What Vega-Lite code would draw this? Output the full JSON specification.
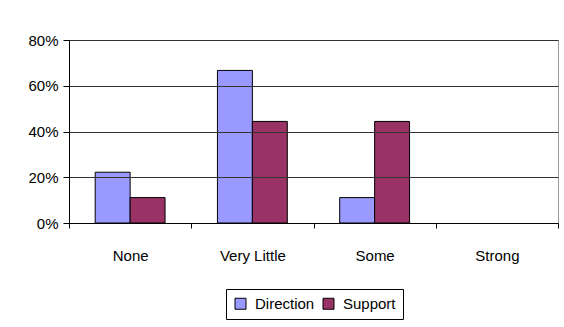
{
  "$schema": "https://vega.github.io/schema/vega-lite/v6.json",
  "width": 489,
  "height": 183,
  "autosize": "none",
  "padding": {"left": 69, "top": 40, "right": 6, "bottom": 104},
  "background": "white",
  "data": {
    "values": [
      {"level": "None", "series": "Direction", "share": 0.222},
      {"level": "None", "series": "Support", "share": 0.111},
      {"level": "Very Little", "series": "Direction", "share": 0.667},
      {"level": "Very Little", "series": "Support", "share": 0.444},
      {"level": "Some", "series": "Direction", "share": 0.111},
      {"level": "Some", "series": "Support", "share": 0.444},
      {"level": "Strong", "series": "Direction", "share": 0},
      {"level": "Strong", "series": "Support", "share": 0}
    ]
  },
  "transform": [{"filter": "datum.share > 0"}],
  "mark": {"type": "bar", "stroke": "black", "strokeWidth": 1},
  "encoding": {
    "x": {
      "field": "level",
      "type": "nominal",
      "scale": {
        "domain": ["None", "Very Little", "Some", "Strong"],
        "paddingInner": 0,
        "paddingOuter": 0
      },
      "axis": {
        "title": null,
        "labelAngle": 0,
        "tickBand": "extent",
        "tickSize": 5,
        "tickColor": "black",
        "domainColor": "black",
        "labelPadding": 20,
        "labelFontSize": 15,
        "labelColor": "black",
        "zindex": 1
      }
    },
    "xOffset": {
      "field": "series",
      "type": "nominal",
      "scale": {"domain": ["Direction", "Support"], "paddingInner": 0, "paddingOuter": 0.75}
    },
    "y": {
      "field": "share",
      "type": "quantitative",
      "scale": {"domain": [0, 0.8], "nice": false},
      "axis": {
        "title": null,
        "values": [0, 0.2, 0.4, 0.6, 0.8],
        "format": ".0%",
        "grid": true,
        "gridColor": "#333333",
        "gridOpacity": 1,
        "tickSize": 6,
        "tickColor": "black",
        "domainColor": "black",
        "labelPadding": 5,
        "labelFontSize": 15,
        "labelColor": "black",
        "zindex": 1
      }
    },
    "color": {
      "field": "series",
      "type": "nominal",
      "scale": {"domain": ["Direction", "Support"], "range": ["#9999FF", "#993366"]},
      "legend": {
        "title": null,
        "orient": "none",
        "legendX": 157,
        "legendY": 249,
        "direction": "horizontal",
        "strokeColor": "black",
        "padding": 7,
        "symbolType": "square",
        "symbolSize": 121,
        "symbolStrokeColor": "black",
        "symbolStrokeWidth": 1,
        "symbolOpacity": 1,
        "labelFontSize": 15,
        "labelColor": "black",
        "labelOffset": 7,
        "columnPadding": 6
      }
    }
  },
  "config": {
    "font": "Liberation Sans",
    "view": {"stroke": "#999999", "strokeWidth": 1}
  }
}
